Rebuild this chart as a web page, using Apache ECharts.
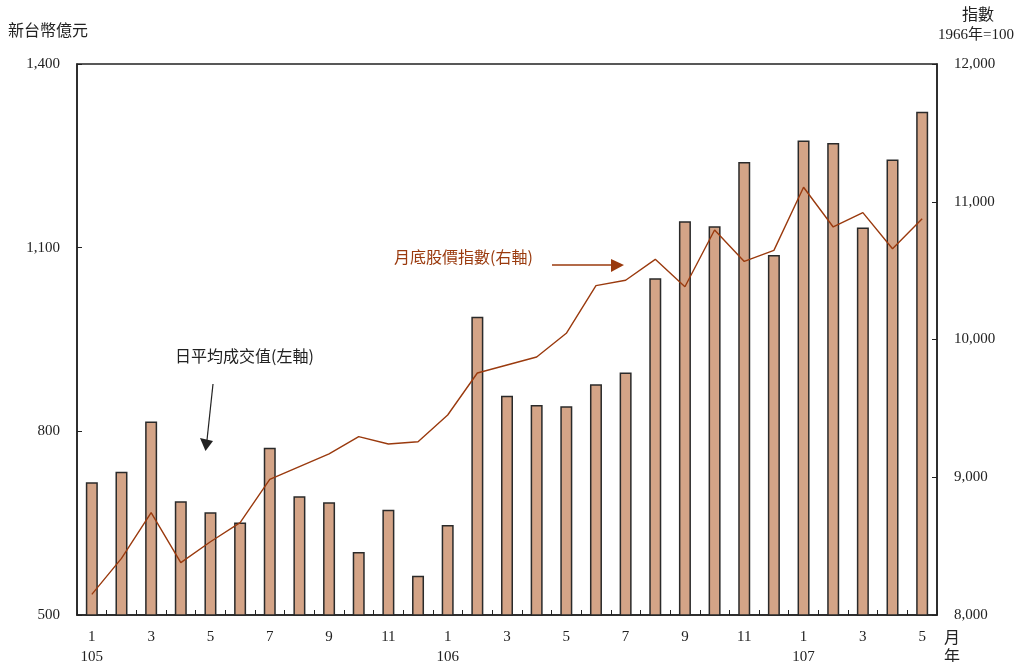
<!DOCTYPE html>
<html><head><meta charset="utf-8">
<script src="https://cdn.jsdelivr.net/npm/echarts@6/dist/echarts.min.js"></script>
<style>html,body{margin:0;padding:0;background:#fff}#c{width:1021px;height:662px}</style>
</head><body><div id="c"></div>
<script>
const months = ['1','2','3','4','5','6','7','8','9','10','11','12','1','2','3','4','5','6','7','8','9','10','11','12','1','2','3','4','5'];
const years = ['105','','','','','','','','','','','','106','','','','','','','','','','','','107','','','',''];
const turnover = [717,734,816,686,668,651,773,694,684,603,672,564,647,987,858,843,841,877,896,1050,1143,1135,1240,1088,1275,1271,1133,1244,1322];
const stockIndex = [8150,8411,8743,8380,8532,8670,8985,9077,9169,9295,9241,9258,9452,9757,9815,9873,10045,10391,10430,10582,10383,10795,10567,10647,11105,10817,10921,10659,10877];
const leftTicks = [500,800,1100,1400];
const rightTicks = [8000,9000,10000,11000,12000];

const FONT = "'Liberation Serif','Noto Sans CJK TC',serif";
const CJK = "'Noto Sans CJK TC','Liberation Serif',serif";
const cats = months.map((m,i)=>m+'|'+years[i]);
const chart = echarts.init(document.getElementById('c'));
chart.setOption({
  animation:false,
  backgroundColor:'#fff',
  grid:{left:77,right:84,top:64,bottom:47,show:true,borderColor:'#222',borderWidth:1.5,containLabel:false,outerBoundsMode:'none'},
  xAxis:{type:'category',data:cats,boundaryGap:true,
    axisLine:{lineStyle:{color:'#222',width:1.5}},
    axisTick:{show:true,inside:true,length:5,interval:0,alignWithLabel:false,lineStyle:{color:'#222'}},
    axisLabel:{interval:1,margin:12,fontFamily:FONT,fontSize:15,color:'#222',lineHeight:20,
      formatter:v=>{const p=v.split('|');return p[1]?p[0]+'\n'+p[1]:p[0];}}},
  yAxis:[
    {type:'value',min:500,max:1400,interval:300,position:'left',
     axisLine:{show:true,lineStyle:{color:'#222',width:1.5}},
     axisTick:{show:true,inside:true,length:5,lineStyle:{color:'#222'}},
     splitLine:{show:false},
     axisLabel:{margin:17,fontFamily:FONT,fontSize:15,color:'#222',
       formatter:v=>leftTicks.includes(v)?v.toLocaleString('en-US'):''}},
    {type:'value',min:8000,max:12000,interval:1000,position:'right',
     axisLine:{show:true,lineStyle:{color:'#222',width:1.5}},
     axisTick:{show:true,inside:true,length:5,lineStyle:{color:'#222'}},
     splitLine:{show:false},
     axisLabel:{margin:17,fontFamily:FONT,fontSize:15,color:'#222',
       formatter:v=>rightTicks.includes(v)?v.toLocaleString('en-US'):''}}
  ],
  series:[
    {type:'bar',yAxisIndex:0,data:turnover,barWidth:12,
     itemStyle:{color:'#D4A487',borderColor:'#2a2a2a',borderWidth:1.5}},
    {type:'line',yAxisIndex:1,data:stockIndex,symbol:'none',
     lineStyle:{color:'#9A3A0E',width:1.4}}
  ],
  graphic:[
    {type:'text',left:8,top:22,style:{text:'新台幣億元',font:'16px '+CJK,fill:'#222'}},
    {type:'text',left:962,top:6,style:{text:'指數',font:'16px '+CJK,fill:'#222'}},
    {type:'text',left:938,top:28,style:{text:'1966年=100',font:'15px '+FONT,fill:'#222'}},
    {type:'text',left:944,top:629,style:{text:'月',font:'16px '+CJK,fill:'#222'}},
    {type:'text',left:944,top:648,style:{text:'年',font:'16px '+CJK,fill:'#222'}},
    {type:'text',left:394,top:249,style:{text:'月底股價指數(右軸)',font:'16px '+CJK,fill:'#9A3A0E'}},
    {type:'line',shape:{x1:552,y1:265,x2:612,y2:265},style:{stroke:'#9A3A0E',lineWidth:1.5}},
    {type:'polygon',shape:{points:[[611,259],[624,265],[611,272]]},style:{fill:'#9A3A0E'}},
    {type:'text',left:175,top:348,style:{text:'日平均成交值(左軸)',font:'16px '+CJK,fill:'#222'}},
    {type:'line',shape:{x1:213,y1:384,x2:207,y2:440},style:{stroke:'#222',lineWidth:1.2}},
    {type:'polygon',shape:{points:[[200,438],[213,441],[205.5,451]]},style:{fill:'#222'}}
  ]
});
</script></body></html>
